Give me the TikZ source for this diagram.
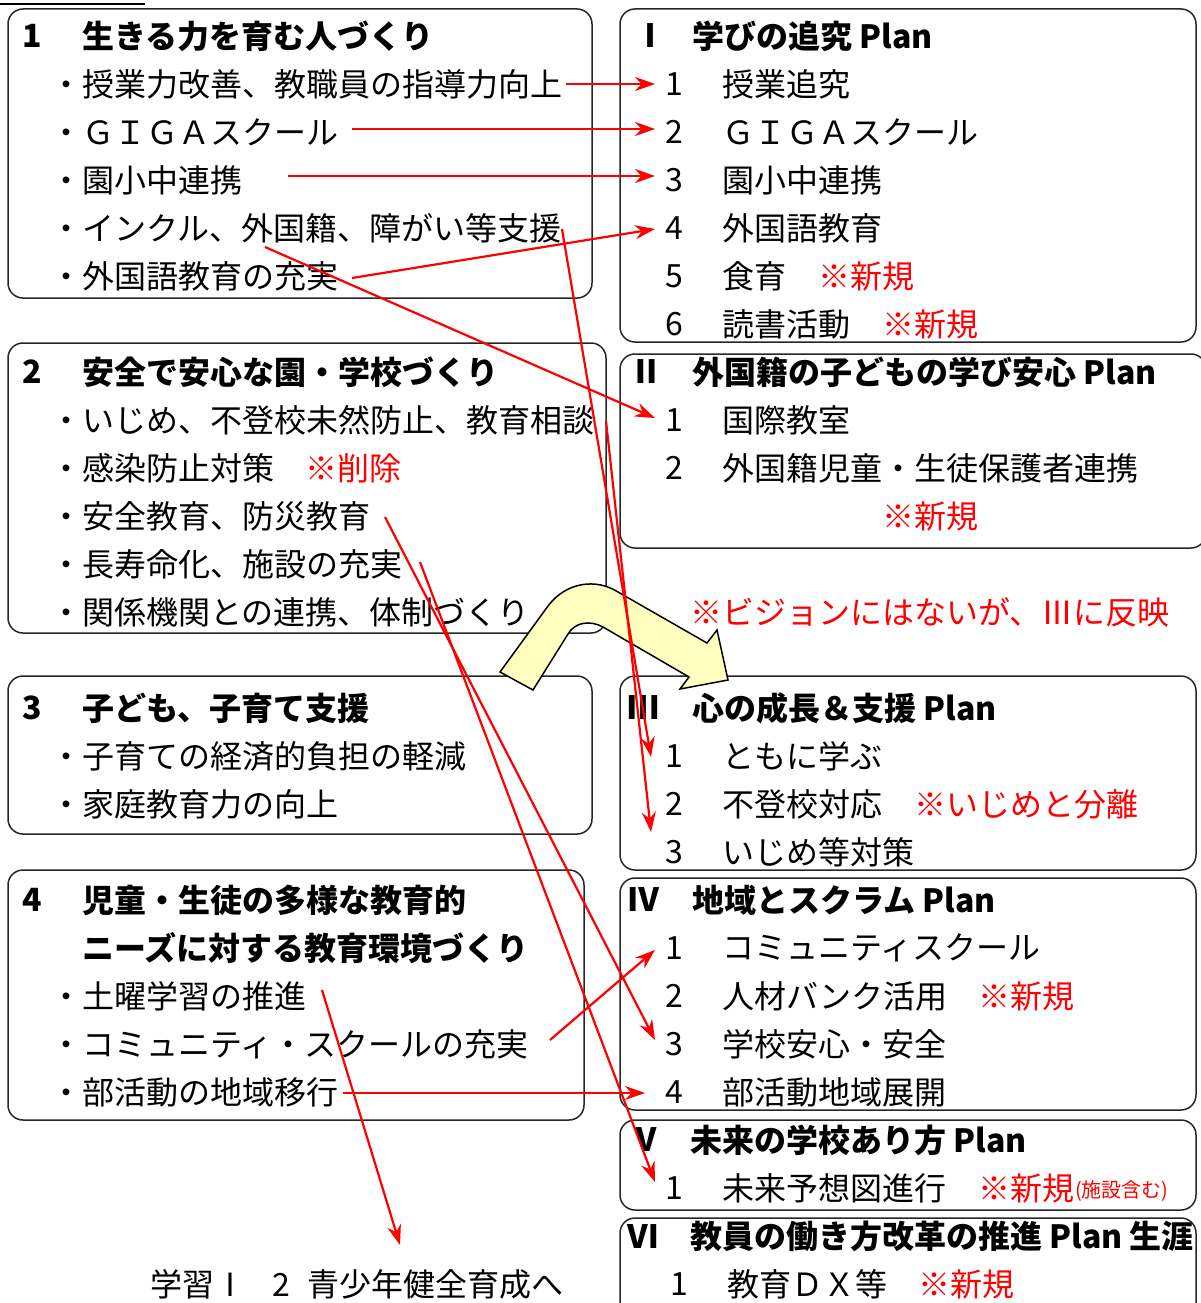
\documentclass[tikz,border=0pt]{standalone}
\usepackage{fontspec}
\newfontfamily\jp{Noto Sans CJK JP}
\usetikzlibrary{arrows.meta}
\definecolor{pale}{RGB}{255,255,192}
\definecolor{rd}{RGB}{255,0,0}
\tikzset{
  box/.style={draw=black!85, line width=1.5pt, rounded corners=15pt},
  txt/.style={anchor=west, inner sep=0pt, font=\jp\fontsize{32}{38}\selectfont},
  hd/.style={txt, font=\jp\bfseries\fontsize{32}{38}\selectfont},
  note/.style={txt, text=rd},
  small/.style={txt, text=rd, font=\jp\fontsize{20}{24}\selectfont},
  link/.style={draw=rd, line width=2.2pt, -{Stealth[length=20pt,width=14pt]}},
  bigarrow/.style={draw=black, line width=1.5pt, fill=pale, line join=miter}
}
\begin{document}
\begin{tikzpicture}[x=1pt,y=-1pt]
\useasboundingbox (0,0) rectangle (1200,1303);
% top cut-off heading underline
\draw[line width=1.5pt] (0,4) -- (145,4);
% ===== boxes =====
\draw[box] (8,9) rectangle (592,298);
\draw[box] (8,343) rectangle (606,633);
\draw[box] (8,676) rectangle (592,834);
\draw[box] (8,870) rectangle (584,1120);
\draw[box] (620,9) rectangle (1196,342);
\draw[box] (620,354) rectangle (1206,548);
\draw[box] (620,676) rectangle (1196,870);
\draw[box] (620,878) rectangle (1196,1110);
\draw[box] (620,1120) rectangle (1196,1210);
\draw[box] (620,1218) rectangle (1196,1330);
% ===== left texts =====
\node[hd] (n1) at (22,36) {1};
\node[hd] (t1) at (82,36) {生きる力を育む人づくり};
\node[txt] (l11) at (50,84) {・授業力改善、教職員の指導力向上};
\node[txt] (l12) at (50,132) {・ＧＩＧＡスクール};
\node[txt] (l13) at (50,180) {・園小中連携};
\node[txt] (l14) at (50,228) {・インクル、外国籍、障がい等支援};
\node[txt] (l15) at (50,276) {・外国語教育の充実};

\node[hd] (n2) at (22,372) {2};
\node[hd] (t2) at (82,372) {安全で安心な園・学校づくり};
\node[txt] (l21) at (50,420) {・いじめ、不登校未然防止、教育相談};
\node[txt] (l22) at (50,468) {・感染防止対策};
\node[note] (r22) at (305,468) {※削除};
\node[txt] (l23) at (50,516) {・安全教育、防災教育};
\node[txt] (l24) at (50,564) {・長寿命化、施設の充実};
\node[txt] (l25) at (50,612) {・関係機関との連携、体制づくり};

\node[hd] (n3) at (22,708) {3};
\node[hd] (t3) at (82,708) {子ども、子育て支援};
\node[txt] (l31) at (50,756) {・子育ての経済的負担の軽減};
\node[txt] (l32) at (50,804) {・家庭教育力の向上};

\node[hd] (n4) at (22,900) {4};
\node[hd] (t4) at (82,900) {児童・生徒の多様な教育的};
\node[hd] (t4b) at (82,948) {ニーズに対する教育環境づくり};
\node[txt] (l41) at (50,996) {・土曜学習の推進};
\node[txt] (l42) at (50,1044) {・コミュニティ・スクールの充実};
\node[txt] (l43) at (50,1092) {・部活動の地域移行};

\node[txt] (bot) at (150,1284) {学習Ⅰ\hspace{26pt}2\hspace{18pt}青少年健全育成へ};

% ===== right texts =====
\node[hd] (RI) at (634,36) {Ⅰ};
\node[hd] (TI) at (692,36) {学びの追究 Plan};
\node[txt] (k11) at (665,84) {1};  \node[txt] (p11) at (722,84) {授業追究};
\node[txt] (k12) at (665,132) {2}; \node[txt] (p12) at (722,132) {ＧＩＧＡスクール};
\node[txt] (k13) at (665,180) {3}; \node[txt] (p13) at (722,180) {園小中連携};
\node[txt] (k14) at (665,228) {4}; \node[txt] (p14) at (722,228) {外国語教育};
\node[txt] (k15) at (665,276) {5}; \node[txt] (p15) at (722,276) {食育};
\node[note] (r15) at (818,276) {※新規};
\node[txt] (k16) at (665,324) {6}; \node[txt] (p16) at (722,324) {読書活動};
\node[note] (r16) at (882,324) {※新規};

\node[hd] (RII) at (630,372) {Ⅱ};
\node[hd] (TII) at (692,372) {外国籍の子どもの学び安心 Plan};
\node[txt] (k21) at (665,420) {1}; \node[txt] (p21) at (722,420) {国際教室};
\node[txt] (k22) at (665,468) {2}; \node[txt] (p22) at (722,468) {外国籍児童・生徒保護者連携};
\node[note] (r22b) at (882,516) {※新規};

\node[note] (vis) at (690,612) {※ビジョンにはないが、Ⅲに反映};

\node[hd] (RIII) at (627,708) {Ⅲ};
\node[hd] (TIII) at (692,708) {心の成長＆支援 Plan};
\node[txt] (k31) at (665,756) {1}; \node[txt] (p31) at (722,756) {ともに学ぶ};
\node[txt] (k32) at (665,804) {2}; \node[txt] (p32) at (722,804) {不登校対応};
\node[note] (r32) at (914,804) {※いじめと分離};
\node[txt] (k33) at (665,852) {3}; \node[txt] (p33) at (722,852) {いじめ等対策};

\node[hd] (RIV) at (627,900) {Ⅳ};
\node[hd] (TIV) at (692,900) {地域とスクラム Plan};
\node[txt] (k41) at (665,948) {1}; \node[txt] (p41) at (722,948) {コミュニティスクール};
\node[txt] (k42) at (665,996) {2}; \node[txt] (p42) at (722,996) {人材バンク活用};
\node[note] (r42) at (978,996) {※新規};
\node[txt] (k43) at (665,1044) {3}; \node[txt] (p43) at (722,1044) {学校安心・安全};
\node[txt] (k44) at (665,1092) {4}; \node[txt] (p44) at (722,1092) {部活動地域展開};

\node[hd] (RV) at (630,1140) {Ⅴ};
\node[hd] (TV) at (690,1140) {未来の学校あり方 Plan};
\node[txt] (k51) at (665,1188) {1}; \node[txt] (p51) at (722,1188) {未来予想図進行};
\node[note] (r51) at (978,1188) {※新規};
\node[small] (r51b) at (1075,1191) {(施設含む)};

\node[hd] (RVI) at (627,1236) {Ⅵ};
\node[hd] (TVI) at (690,1236) {教員の働き方改革の推進 Plan 生涯};
\node[txt] (k61) at (670,1284) {1}; \node[txt] (p61) at (727,1284) {教育ＤＸ等};
\node[note] (r61) at (918,1284) {※新規};

% ===== big yellow arrow =====
\path[bigarrow] (500,672) -- (548,606) .. controls (566,582) and (596,578) .. (618,592)
  -- (707,643) -- (717,630) -- (728,680) -- (680,689) -- (689,677) -- (603,627)
  .. controls (590,620) and (575,622) .. (568,634) -- (533,690) -- cycle;

% ===== connector coordinates =====
\coordinate (s1) at (566,84);   \coordinate (e1) at (655,84);
\coordinate (s2) at (352,129);  \coordinate (e2) at (655,129);
\coordinate (s3) at (288,176);  \coordinate (e3) at (655,176);
\coordinate (s4) at (352,278);  \coordinate (e4) at (655,229);
\coordinate (s5) at (265,247);  \coordinate (e5) at (655,418);
\coordinate (s6) at (562,229);  \coordinate (e6) at (651,757);
\coordinate (s7) at (606,421);  \coordinate (e7) at (651,832);
\coordinate (s8) at (385,517);  \coordinate (e8) at (655,1040);
\coordinate (s9) at (420,562);  \coordinate (e9) at (655,1182);
\coordinate (s10) at (550,1040); \coordinate (e10) at (655,950);
\coordinate (s11) at (343,1093); \coordinate (e11) at (645,1093);
\coordinate (s12) at (322,990);  \coordinate (e12) at (400,1245);

\foreach \i in {1,...,12} { \draw[link] (s\i) -- (e\i); }
\end{tikzpicture}
\end{document}
